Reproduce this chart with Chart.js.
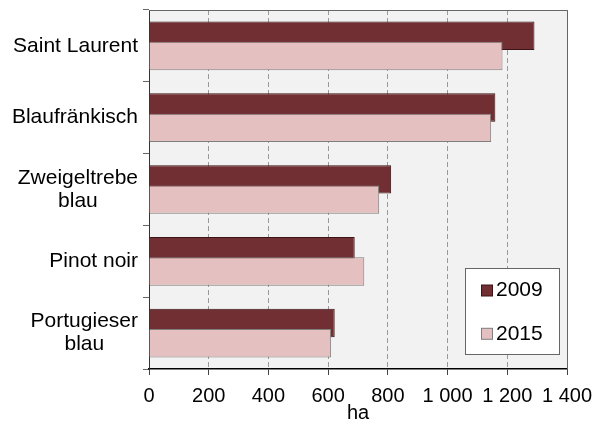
<!DOCTYPE html>
<html>
<head>
<meta charset="utf-8">
<script src="https://cdn.jsdelivr.net/npm/chart.js@4/dist/chart.umd.min.js"></script>
<style>
  html, body { margin: 0; padding: 0; background: #fff; }
  #wrap { width: 602px; height: 425px; position: relative; }
</style>
</head>
<body>
<div id="wrap"><canvas id="vineChart"></canvas></div>
<script>
// Rebsorten, Fläche in ha
const categories = [['Saint Laurent'], ['Blaufränkisch'], ['Zweigeltrebe', 'blau'], ['Pinot noir'], ['Portugieser', 'blau']];
const years = ['2009', '2015'];
const area2009 = [1291, 1160, 811, 689, 622];
const area2015 = [1184, 1146, 771, 721, 610];
const xMin = 0;
const xMax = 1400;
const xStep = 200;
const xTitle = 'ha';

const FONT = "'Liberation Sans', Arial, sans-serif";

function fmtThousands(v) {
    return String(v).replace(/\B(?=(\d{3})+(?!\d))/g, ' ');
}

// Plotfläche grau hinterlegen + Rahmen
const plotFrame = {
    id: 'plotFrame',
    beforeDraw(chart) {
        const { ctx, chartArea: a } = chart;
        ctx.save();
        ctx.fillStyle = '#f2f2f2';
        ctx.fillRect(a.left, a.top, a.right - a.left, a.bottom - a.top);
        ctx.restore();
    },
    afterDraw(chart) {
        const { ctx, chartArea: a } = chart;
        ctx.save();
        ctx.strokeStyle = '#666';
        ctx.lineWidth = 1;
        ctx.beginPath();
        ctx.moveTo(a.left, a.top + 0.5);
        ctx.lineTo(a.right + 0.5, a.top + 0.5);
        ctx.lineTo(a.right + 0.5, a.bottom);
        ctx.stroke();
        ctx.restore();
    }
};

// 2015 soll über 2009 liegen
const drawOrder = {
    id: 'drawOrder',
    beforeDatasetsDraw(chart) {
        [0, 1].forEach(i => chart.getDatasetMeta(i).controller.draw());
        return false;
    }
};

// Kategorienbeschriftung: Block rechtsbündig, Zeilen zentriert
const catLabels = {
    id: 'catLabels',
    afterDraw(chart) {
        const { ctx } = chart;
        const y = chart.scales.y;
        const right = 138;
        const lh = 23;
        ctx.save();
        ctx.font = '21px ' + FONT;
        ctx.fillStyle = '#000';
        ctx.textAlign = 'center';
        ctx.textBaseline = 'middle';
        chart.data.labels.forEach((lab, i) => {
            const lines = Array.isArray(lab) ? lab : [lab];
            const w = Math.max(...lines.map(l => ctx.measureText(l).width));
            const cy = y.getPixelForValue(i);
            lines.forEach((l, k) => {
                ctx.fillText(l, right - w / 2, cy + (k - (lines.length - 1) / 2) * lh);
            });
        });
        ctx.restore();
    }
};

// Legende im Diagramm
const boxLegend = {
    id: 'boxLegend',
    afterDraw(chart) {
        const { ctx } = chart;
        const bx = 465.5, by = 268.5, bw = 94, bh = 86;
        ctx.save();
        ctx.fillStyle = '#fff';
        ctx.fillRect(bx, by, bw, bh);
        ctx.strokeStyle = '#666';
        ctx.lineWidth = 1;
        ctx.strokeRect(bx, by, bw, bh);
        ctx.font = '21px ' + FONT;
        ctx.textBaseline = 'middle';
        ctx.textAlign = 'left';
        const rows = [290.5, 333.8];
        chart.data.datasets.forEach((ds, i) => {
            const cy = rows[i];
            ctx.fillStyle = ds.backgroundColor;
            ctx.fillRect(481.5, cy - 5.5, 11, 11);
            ctx.strokeStyle = ds.borderColor;
            ctx.strokeRect(481.5, cy - 5.5, 11, 11);
            ctx.fillStyle = '#000';
            ctx.fillText(ds.label, 496, cy);
        });
        ctx.restore();
    }
};

const chart = new Chart(document.getElementById('vineChart'), {
    type: 'bar',
    data: {
        labels: categories,
        datasets: [{
            label: years[0],
            data: area2009,
            backgroundColor: '#722f33',
            borderColor: '#3a1416',
            borderWidth: 1
        }, {
            label: years[1],
            data: area2015,
            backgroundColor: '#e4c1c0',
            borderColor: '#7f7f7f',
            borderWidth: 1
        }]
    },
    options: {
        indexAxis: 'y',
        responsive: true,
        maintainAspectRatio: false,
        animation: false,
        categoryPercentage: 0.565,
        barPercentage: 1.4,
        layout: { padding: { left: 0, right: 35, top: 10, bottom: 0 } },
        plugins: {
            legend: { display: false },
            tooltip: { enabled: false }
        },
        scales: {
            x: {
                min: xMin,
                max: xMax,
                ticks: {
                    stepSize: xStep,
                    color: '#000',
                    padding: 9,
                    maxRotation: 0,
                    autoSkip: false,
                    font: { family: FONT, size: 20 },
                    callback: v => fmtThousands(v)
                },
                grid: {
                    color: '#999',
                    lineWidth: 1,
                    tickLength: 6,
                    tickColor: '#444',
                    tickBorderDash: []
                },
                border: { color: '#000', width: 1.5, dash: [5, 3] },
                title: {
                    display: true,
                    text: xTitle,
                    color: '#000',
                    padding: { top: 0, bottom: 0 },
                    font: { family: FONT, size: 20 }
                },
                afterFit(scale) { scale.height = 56; }
            },
            y: {
                ticks: { display: false },
                grid: {
                    drawOnChartArea: false,
                    drawTicks: true,
                    tickLength: 6,
                    tickColor: '#666'
                },
                border: { color: '#333', width: 1 },
                afterFit(scale) { scale.width = 149; }
            }
        }
    },
    plugins: [plotFrame, drawOrder, catLabels, boxLegend]
});
</script>
</body>
</html>
